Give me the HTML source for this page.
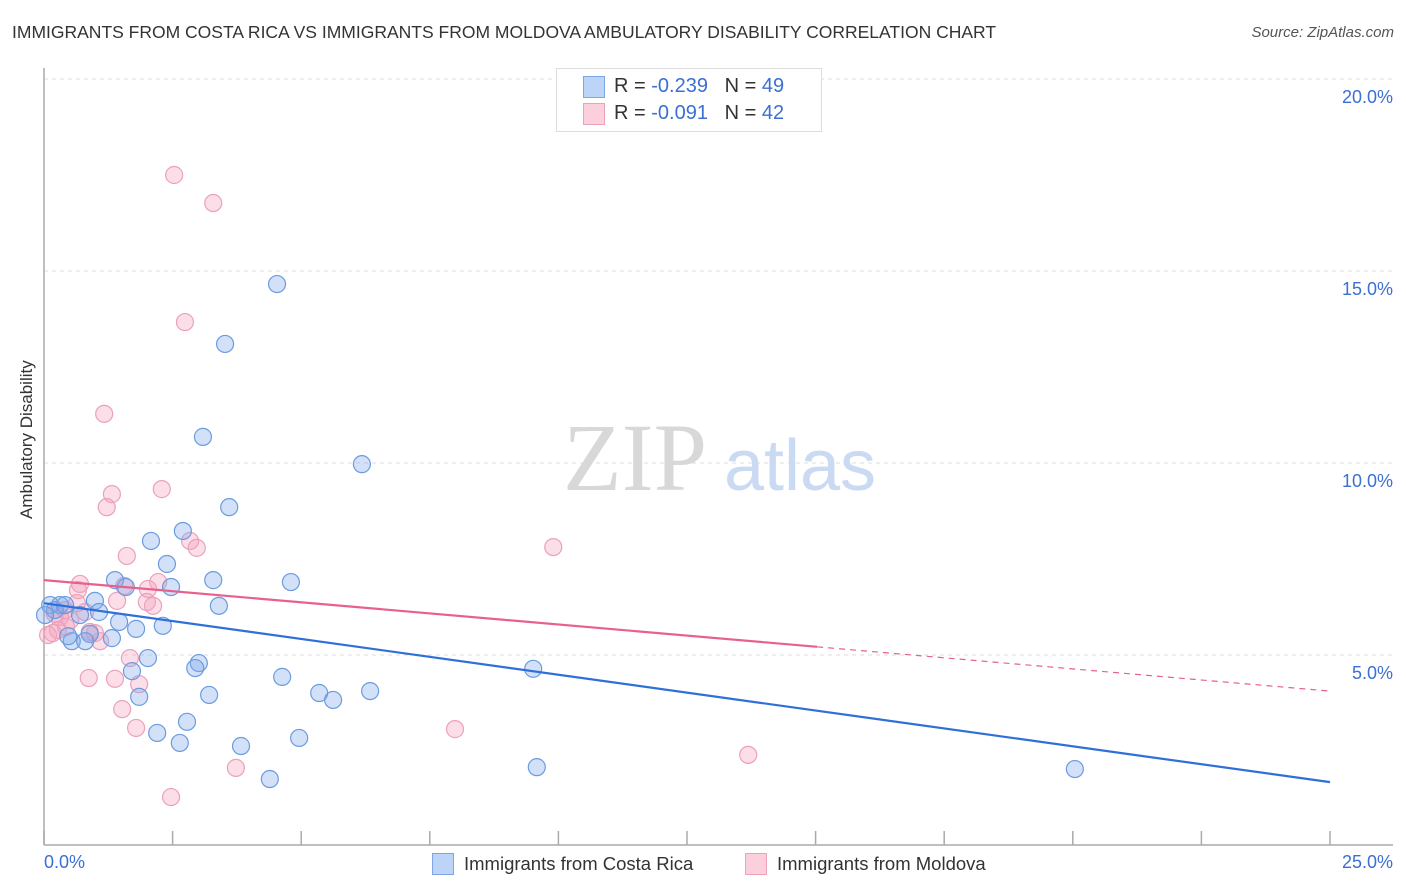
<!DOCTYPE html>
<html><head><meta charset="utf-8">
<style>
body{margin:0;background:#fff;font-family:"Liberation Sans",sans-serif;}
#wrap{position:relative;width:1406px;height:892px;overflow:hidden;}
.t{position:absolute;white-space:nowrap;}
</style></head><body>
<div id="wrap">
<div class="t" style="left:12px;top:22px;font-size:17.5px;color:#333;">IMMIGRANTS FROM COSTA RICA VS IMMIGRANTS FROM MOLDOVA AMBULATORY DISABILITY CORRELATION CHART</div>
<div class="t" style="right:12px;top:24px;font-size:15px;color:#555;font-style:italic;">Source: ZipAtlas.com</div>
<svg id="chart" width="1406" height="892" style="position:absolute;left:0;top:0"></svg>
</div>
<script>
const blueX=[4.53,3.52,3.09,6.18,3.60,2.70,2.08,2.39,1.38,1.59,2.47,3.29,4.80,0.99,3.40,1.07,1.46,1.79,2.31,1.32,0.89,0.54,0.80,0.47,0.31,0.12,0.21,0.02,2.02,3.01,2.94,1.71,4.63,9.51,3.21,5.35,5.62,6.34,1.85,2.78,2.20,2.64,4.96,3.83,4.39,9.58,20.04,0.41,0.70];
const blueY=[14.66,13.10,10.68,9.97,8.85,8.23,7.97,7.37,6.95,6.77,6.77,6.95,6.90,6.41,6.28,6.12,5.86,5.68,5.76,5.44,5.55,5.36,5.36,5.49,6.30,6.30,6.17,6.04,4.92,4.79,4.66,4.58,4.43,4.64,3.96,4.01,3.83,4.06,3.91,3.26,2.97,2.71,2.84,2.63,1.77,2.08,2.03,6.30,6.04];
const pinkX=[2.53,3.29,2.74,1.17,1.32,1.22,2.29,2.84,2.97,9.90,1.61,0.70,0.66,2.22,1.56,2.02,1.42,2.00,2.12,0.64,0.41,0.80,0.31,0.51,0.27,0.08,0.17,0.99,1.09,1.67,0.87,1.38,1.85,1.52,1.79,7.99,3.73,13.69,2.47,0.89,0.21,0.43];
const pinkY=[17.50,16.77,13.67,11.28,9.19,8.85,9.32,7.97,7.79,7.81,7.58,6.85,6.69,6.90,6.80,6.72,6.41,6.38,6.28,6.35,6.17,6.12,5.99,5.91,5.65,5.52,5.57,5.57,5.36,4.92,4.40,4.38,4.24,3.59,3.10,3.07,2.06,2.40,1.30,5.60,6.07,5.73];
const blueTrend=[6.35,1.69];
const pinkTrend=[6.95,4.06];
const pinkSolidEnd=15.03;
const yTicks=[5,10,15,20];
const yTickLabels=["5.0%","10.0%","15.0%","20.0%"];
const xTicks=[0,2.5,5,7.5,10,12.5,15,17.5,20,22.5,25];

const NS="http://www.w3.org/2000/svg";
const svg=document.getElementById('chart');
const X=v=>44+v/25*1286;
const Y=v=>847-v*38.4;
function mk(tag,attrs,parent){const e=document.createElementNS(NS,tag);for(const k in attrs)e.setAttribute(k,attrs[k]);(parent||svg).appendChild(e);return e;}

// gridlines
yTicks.forEach((t,i)=>{
  const g=mk('line',{x1:44,x2:1393,y1:Y(t),y2:Y(t),stroke:'#dcdcdc','stroke-dasharray':'4,4','stroke-width':1});
  
  
  const tx=mk('text',{x:1393,y:Y(t)+24,'text-anchor':'end','font-size':18,fill:'#3b6fd4','font-family':'Liberation Sans, sans-serif'});
  tx.textContent=yTickLabels[i];
  
  
});
// axes
let a=mk('line',{x1:44,x2:44,y1:68,y2:845,stroke:'#aaa','stroke-width':1.5});


a=mk('line',{x1:44,x2:1393,y1:845,y2:845,stroke:'#aaa','stroke-width':1.5});


xTicks.forEach(t=>{
  const l=mk('line',{x1:X(t),x2:X(t),y1:831,y2:845,stroke:'#aaa','stroke-width':1.5});
  
  
});
// watermark
let wm=mk('text',{x:635,y:490,'text-anchor':'middle','font-size':96,fill:'#d8d8d8','font-family':'Liberation Serif, serif'});
wm.textContent='ZIP';


wm=mk('text',{x:800,y:490,'text-anchor':'middle','font-size':72,fill:'#c9daf2','font-family':'Liberation Sans, sans-serif'});
wm.textContent='atlas';


// points
pinkX.forEach((x,i)=>{
  const c=mk('circle',{cx:X(x),cy:Y(pinkY[i]),r:8.5,fill:'rgba(244,160,188,0.35)',stroke:'#eba1ba','stroke-width':1.2});
  
  
});
blueX.forEach((x,i)=>{
  const c=mk('circle',{cx:X(x),cy:Y(blueY[i]),r:8.5,fill:'rgba(130,170,235,0.35)',stroke:'#6b9be0','stroke-width':1.2});
  
  
});
// trend lines
const pAt=x=>pinkTrend[0]+(pinkTrend[1]-pinkTrend[0])*x/25;
let tl=mk('line',{x1:X(0),y1:Y(blueTrend[0]),x2:X(25),y2:Y(blueTrend[1]),stroke:'#2f6fd8','stroke-width':2.2});


tl=mk('line',{x1:X(0),y1:Y(pAt(0)),x2:X(pinkSolidEnd),y2:Y(pAt(pinkSolidEnd)),stroke:'#e8608e','stroke-width':2.2});


tl=mk('line',{x1:X(pinkSolidEnd),y1:Y(pAt(pinkSolidEnd)),x2:X(25),y2:Y(pAt(25)),stroke:'#e8608e','stroke-width':1.2,'stroke-dasharray':'6,5'});


</script>
<div style="position:absolute;left:556px;top:68px;width:264px;height:62px;border:1px solid #ddd;background:#fff;font-size:20px;">
 <div style="position:absolute;left:26px;top:7px;width:20px;height:20px;background:#bcd4f7;border:1px solid #7ea6e6;"></div>
 <div class="t" style="left:57px;top:6px;color:#333;">R = <span style="color:#3b6fd4">-0.239</span>&nbsp;&nbsp;&nbsp;N = <span style="color:#3b6fd4">49</span></div>
 <div style="position:absolute;left:26px;top:34px;width:20px;height:20px;background:#fbcfdc;border:1px solid #eca2bb;"></div>
 <div class="t" style="left:57px;top:33px;color:#333;">R = <span style="color:#3b6fd4">-0.091</span>&nbsp;&nbsp;&nbsp;N = <span style="color:#3b6fd4">42</span></div>
</div>
<div class="t" style="left:44px;top:852px;font-size:18px;color:#3b6fd4;">0.0%</div>
<div class="t" style="right:13px;top:852px;font-size:18px;color:#3b6fd4;">25.0%</div>
<div class="t" style="left:-38px;top:444px;font-size:17px;color:#333;transform:rotate(-90deg);transform-origin:center;width:130px;text-align:center;">Ambulatory Disability</div>
<div style="position:absolute;left:432px;top:853px;width:20px;height:20px;background:#bcd4f7;border:1px solid #7ea6e6;"></div>
<div class="t" style="left:464px;top:853px;font-size:18.5px;color:#333;">Immigrants from Costa Rica</div>
<div style="position:absolute;left:745px;top:853px;width:20px;height:20px;background:#fbcfdc;border:1px solid #eca2bb;"></div>
<div class="t" style="left:777px;top:853px;font-size:18.5px;color:#333;">Immigrants from Moldova</div>
</body></html>
